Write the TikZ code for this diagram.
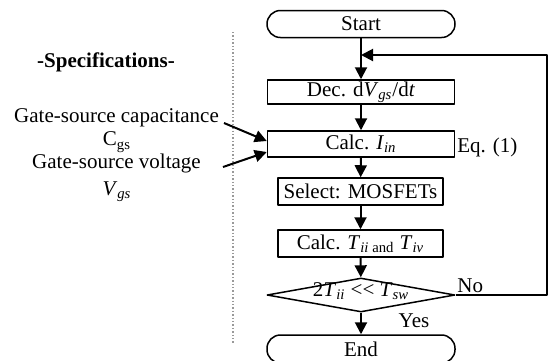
\documentclass[tikz,border=0pt]{standalone}
\usepackage{fontspec}
\setmainfont{Liberation Serif}
\usetikzlibrary{shapes.geometric,arrows.meta}
\newcommand{\isub}[2]{\textit{#1}\textsubscript{\textit{#2}}}
\begin{document}
\begin{tikzpicture}[x=0.5pt, y=-0.5pt, font=\fontsize{10.5}{12}\selectfont, line join=round,
		>={Triangle[length=6pt,width=6pt]},
		box/.style={draw, line width=0.75pt, minimum height=12.5pt, inner sep=0pt},
		term/.style={box, rounded corners=6.7pt, minimum width=94pt, minimum height=13.5pt},
		flow/.style={->, line width=1pt}]
	\useasboundingbox (0,0) rectangle (550,360);
	\clip (0,0) rectangle (550,360);
	% flow chart
	\node[term] (start) at (361,24) {Start};
	\node[box, minimum width=93.5pt, minimum height=12pt] (dec) at (361,92) {Dec. d\isub{V}{gs}/d\textit{t}};
	\node[box, minimum width=93.5pt, minimum height=13pt] (calcI) at (361,144) {Calc. \isub{I}{in}};
	\node[box, minimum width=82.5pt, minimum height=13.5pt] (select) at (360.5,191.5) {Select: MOSFETs};
	\node[box, minimum width=82.5pt, minimum height=13.5pt] (calcT) at (360.5,243.5) {Calc. \textit{T}\textsubscript{\textit{ii} and} \isub{T}{iv}};
	\node[diamond, draw, line width=0.75pt, minimum width=94pt, minimum height=17pt, inner sep=0pt] (test) at (361,295) {};
	\node (testtxt) at (361,291) {2\isub{T}{ii} <{}< \isub{T}{sw}};
	\node[term, minimum height=14pt] (end) at (361,349) {End};
	\node[anchor=west, inner sep=0pt] (eq) at (457,147) {Eq. (1)};
	\node[anchor=west, inner sep=0pt] (no) at (457,286) {No};
	\node (yes) at (414,321) {Yes};
	\coordinate (loopR) at (547,55);
	\coordinate (loopJ) at (361,55);
	\draw[flow] (start) -- (dec);
	\draw[flow] (dec) -- (calcI);
	\draw[flow] (calcI) -- (select);
	\draw[flow] (select) -- (calcT);
	\draw[flow] (calcT) -- (test);
	\draw[flow] (test) -- (end);
	\draw[flow] (test.east) -| (loopR) -- (loopJ);
	% specifications
	\coordinate (divTop) at (233,32);
	\coordinate (divBot) at (233,343);
	\draw[gray!80, densely dotted, line width=0.7pt] (divTop) -- (divBot);
	\node (spec) at (106,62) {\bfseries -Specifications-};
	\node (capText) at (116.5,118) {Gate-source capacitance};
	\node (cgs) at (117,142) {C\textsubscript{gs}};
	\node (volText) at (116.5,163) {Gate-source voltage};
	\node (vgs) at (117,192) {\isub{V}{gs}};
	\coordinate (capTail) at (224,123);
	\coordinate (volTail) at (223,167);
	\draw[flow] (capTail) -- ([yshift=1.5pt]calcI.west);
	\draw[flow] (volTail) -- ([yshift=-4pt]calcI.west);
\end{tikzpicture}
\end{document}
